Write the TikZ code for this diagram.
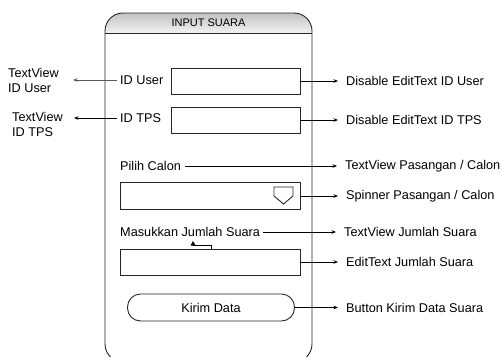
\documentclass[tikz,border=0pt]{standalone}
\usepackage{fontspec}
\setmainfont{Liberation Sans}
\usetikzlibrary{arrows.meta}

\tikzset{
  lbl/.style={inner sep=0pt, anchor=west, font=\fontsize{12.7}{15}\selectfont},
  field/.style={draw=black!85, line width=0.9pt, inner sep=0pt},
  conn/.style={line width=0.8pt, -{Stealth[length=4.5pt,width=3.6pt]}},
}

\begin{document}
\begin{tikzpicture}[x=1pt, y=-1pt]
  \useasboundingbox (0,0) rectangle (502,356);

  % phone frame with shaded title bar
  \begin{scope}
    \clip (0,0) rectangle (502,356);
    \begin{scope}
      \clip[rounded corners=18] (105,13) rectangle (312,362);
      \shade[top color=black!24, bottom color=black!5] (105,13) rectangle (312,33);
    \end{scope}
    \draw[black!85, line width=0.9pt, rounded corners=18] (105,13) rectangle (312,362);
    \draw[black!85, line width=0.9pt] (105,33) -- (312,33);
  \end{scope}
  \node[font=\fontsize{11}{13}\selectfont] (title) at (208.5,23) {INPUT SUARA};

  % widgets inside the frame
  \node[lbl] (iduser) at (120,80) {ID User};
  \node[field, minimum width=129, minimum height=26] (userbox) at (235.5,81) {};
  \node[lbl] (idtps) at (120,118) {ID TPS};
  \node[field, minimum width=129, minimum height=26] (tpsbox) at (235.5,120) {};
  \node[lbl] (pilih) at (120,166) {Pilih Calon};
  \node[field, minimum width=180, minimum height=27] (spinbox) at (210,196) {};
  \draw[black!85, line width=0.9pt] (274,187) -- (293,187) -- (293,196) -- (283.5,204) -- (274,196) -- cycle;
  \node[lbl] (masuk) at (120,232) {Masukkan Jumlah Suara};
  \node[field, minimum width=180, minimum height=26] (jmlbox) at (210,262) {};
  \node[draw=black!85, line width=0.9pt, rounded corners=13, minimum width=167, minimum height=27,
        font=\fontsize{12.7}{15}\selectfont] (kirim) at (211,307.5) {Kirim Data};

  % descriptions on the left
  \node[lbl, align=left] (tvuser) at (8,80.5) {TextView\\ID User};
  \node[lbl, align=left] (tvtps) at (12,124) {TextView\\ID TPS};

  % descriptions on the right
  \node[lbl] (dUser) at (346,81) {Disable EditText ID User};
  \node[lbl] (dTps) at (346,120) {Disable EditText ID TPS};
  \node[lbl] (tvPas) at (345,166) {TextView Pasangan / Calon};
  \node[lbl] (spPas) at (346,196) {Spinner Pasangan / Calon};
  \node[lbl] (tvJml) at (344,232) {TextView Jumlah Suara};
  \node[lbl] (etJml) at (346,262) {EditText Jumlah Suara};
  \node[lbl] (btn) at (346,307.5) {Button Kirim Data Suara};

  % connectors
  \draw[conn, black!65, shorten <=3pt, shorten >=14pt] (iduser.west) -- (iduser.west -| tvuser.east);
  \draw[conn, shorten <=3pt, shorten >=11pt] (idtps.west) -- (idtps.west -| tvtps.east);
  \draw[conn, shorten >=8pt] (userbox.east) -- (dUser.west);
  \draw[conn, shorten >=8pt] (tpsbox.east) -- (dTps.west);
  \draw[conn, shorten <=4pt, shorten >=8pt] (pilih.east) -- (tvPas.west);
  \draw[conn, shorten >=8pt] (spinbox.east) -- (spPas.west);
  \draw[conn, shorten <=3pt, shorten >=8pt] (masuk.east) -- (tvJml.west);
  \draw[conn, shorten >=8pt] (jmlbox.east) -- (etJml.west);
  \draw[conn, shorten >=8pt] (kirim.east) -- (btn.west);

  % short elbow on top of the amount field
  \coordinate (elbow) at (193,241);
  \draw[line width=0.7pt] (jmlbox.north -| 211,0) |- (193,245.5);
  \fill (elbow) -- (190.5,245.5) -- (195.5,245.5) -- cycle;
\end{tikzpicture}
\end{document}
